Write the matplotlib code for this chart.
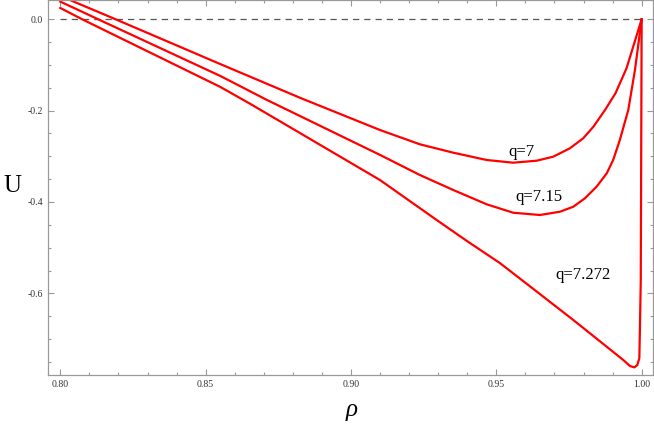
import matplotlib
matplotlib.use("Agg")
import matplotlib.pyplot as plt
from matplotlib.ticker import MultipleLocator, FormatStrFormatter

# values
rho_q7 = [0.800, 0.819, 0.855, 0.8825, 0.910, 0.9237, 0.9352, 0.9467, 0.9558,
          0.9639, 0.9696, 0.9753, 0.9799, 0.9834, 0.9874, 0.9910, 0.9948, 1.000]
u_q7 = [0.051, 0.0, -0.098, -0.172, -0.2425, -0.2737, -0.2921, -0.3081, -0.3140,
        -0.3096, -0.3008, -0.2825, -0.2606, -0.2352, -0.1986, -0.162, -0.1073, 0.0]

rho_q715 = [0.800, 0.813, 0.855, 0.8711, 0.910, 0.9237, 0.9352, 0.9467, 0.9558,
            0.9650, 0.9719, 0.9765, 0.9805, 0.9845, 0.9880, 0.9902, 0.9925,
            0.9954, 0.9977, 1.000]
u_q715 = [0.0386, 0.0, -0.124, -0.1767, -0.297, -0.3409, -0.3738, -0.4051, -0.4235,
          -0.4285, -0.4213, -0.4103, -0.3919, -0.3665, -0.3372, -0.3081, -0.2643,
          -0.1986, -0.111, 0.0]

rho_q7272 = [0.800, 0.8075, 0.855, 0.8653, 0.910, 0.9295, 0.9398, 0.9513, 0.9650,
             0.9765, 0.9880, 0.9937, 0.9960, 0.9975, 0.9985, 0.9992, 0.9994,
             0.9997, 1.000]
u_q7272 = [0.0247, 0.0, -0.148, -0.185, -0.352, -0.4395, -0.485, -0.534, -0.6015,
           -0.6584, -0.7169, -0.7460, -0.7591, -0.7620, -0.757, -0.7423, -0.680,
           -0.5708, 0.0]

labels = ["q=7", "q=7.15", "q=7.272"]
label_pos = [(0.9585, -0.291), (0.9647, -0.390), (0.9798, -0.560)]

plt.rcParams['font.family'] = ['Liberation Serif', 'DejaVu Serif']

fig = plt.figure(figsize=(6.54, 4.29), dpi=100)
ax = fig.add_axes([0.0734, 0.126, 0.925, 0.873])

# dashed zero line
ax.hlines(0, 0.80, 1.0, colors='#555555', linestyles=(0, (5, 4)), linewidth=0.9)

for r, u in [(rho_q7, u_q7), (rho_q715, u_q715), (rho_q7272, u_q7272)]:
    ax.plot(r, u, color='#ff0000', linewidth=1.6, solid_joinstyle='round')

for lab, (x, y) in zip(labels, label_pos):
    ax.text(x, y, lab, fontsize=12, ha='center', va='center', color='black')

ax.set_xlim(0.79577, 1.00389)
ax.set_ylim(-0.7786, 0.0412)

ax.xaxis.set_major_locator(MultipleLocator(0.05))
ax.xaxis.set_minor_locator(MultipleLocator(0.01))
ax.yaxis.set_major_locator(MultipleLocator(0.2))
ax.yaxis.set_minor_locator(MultipleLocator(0.05))
ax.xaxis.set_major_formatter(FormatStrFormatter('%.2f'))
ax.yaxis.set_major_formatter(FormatStrFormatter('%.1f'))

for s in ax.spines.values():
    s.set_color('#999999')
    s.set_linewidth(0.9)
ax.tick_params(which='both', direction='in', top=True, right=True, color='#999999',
               labelsize=7, labelcolor='#333333', width=0.8)
ax.tick_params(which='major', length=4)
ax.tick_params(which='minor', length=2.5)

fig.text(12 / 654, 1 - 186 / 429, 'U', fontsize=18, ha='center', va='center')
fig.text(352 / 654, 1 - 410 / 429, 'ρ', fontsize=18, style='italic', ha='center', va='center')

fig.savefig('out.png', dpi=100)
